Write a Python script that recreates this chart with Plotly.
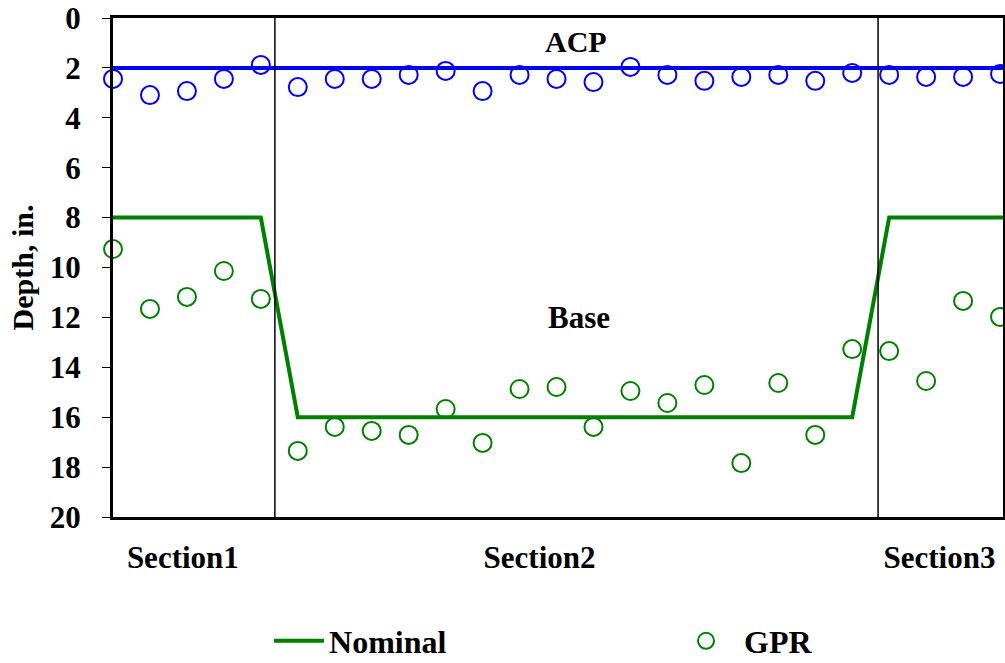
import plotly.graph_objects as go

idx = list(range(25))
acp_gpr = [2.44, 3.09, 2.93, 2.44, 1.88, 2.77, 2.44, 2.44, 2.28, 2.12, 2.93, 2.28, 2.44,
           2.57, 1.96, 2.28, 2.52, 2.36, 2.28, 2.52, 2.20, 2.28, 2.36, 2.36, 2.24]
base_gpr = [9.26, 11.66, 11.18, 10.14, 11.26, 17.35, 16.39, 16.55, 16.71, 15.67, 17.03, 14.87, 14.79,
            16.39, 14.95, 15.43, 14.71, 17.84, 14.63, 16.71, 13.27, 13.35, 14.55, 11.34, 11.98]
acp_nom_x = [0, 24.08]
acp_nom_y = [2, 2]
base_nom_x = [0, 4, 5, 20, 21, 24.08]
base_nom_y = [8, 8, 16, 16, 8, 8]
section_bounds = [4.38, 20.7]
section_pos = [1.89, 11.54, 22.36]
section_labels = ["Section1", "Section2", "Section3"]
y_ticks = [0, 2, 4, 6, 8, 10, 12, 14, 16, 18, 20]

BLUE = "#0000FF"
GREEN = "#008000"
FONT = "Liberation Serif, Times New Roman, serif"

fig = go.Figure()
fig.add_trace(go.Scatter(x=acp_nom_x, y=acp_nom_y, mode="lines",
                         line=dict(color=BLUE, width=4), showlegend=False))
fig.add_trace(go.Scatter(x=base_nom_x, y=base_nom_y, mode="lines", name="Nominal",
                         line=dict(color=GREEN, width=4), legend="legend"))
fig.add_trace(go.Scatter(x=idx, y=acp_gpr, mode="markers", showlegend=False, cliponaxis=False,
                         marker=dict(symbol="circle-open", size=18, color=BLUE, line=dict(width=2, color=BLUE))))
fig.add_trace(go.Scatter(x=idx, y=base_gpr, mode="markers", name="\u00a0GPR", cliponaxis=False,
                         legend="legend2",
                         marker=dict(symbol="circle-open", size=18, color=GREEN, line=dict(width=2, color=GREEN))))

for b in section_bounds:
    fig.add_shape(type="line", x0=b, x1=b, y0=0, y1=20, xref="x", yref="y",
                  line=dict(color="black", width=1.5))

fig.add_annotation(x=12.54, y=0.96, text="<b>ACP</b>", showarrow=False,
                   font=dict(family=FONT, size=30, color="black"))
fig.add_annotation(x=12.6, y=12.02, text="<b>Base</b>", showarrow=False,
                   font=dict(family=FONT, size=31, color="black"))

legend_font = dict(family=FONT, size=32, color="black", weight="bold")
fig.update_layout(
    width=1005, height=663,
    margin=dict(l=113, r=2, t=18, b=146, autoexpand=False),
    paper_bgcolor="white", plot_bgcolor="white",
    font=dict(family=FONT, size=30, color="black"),
    legend=dict(orientation="h", x=0.1753, xanchor="left", y=-0.2485, yanchor="middle",
                font=legend_font, itemwidth=50, bgcolor="rgba(0,0,0,0)"),
    legend2=dict(orientation="h", x=0.6326, xanchor="left", y=-0.2485, yanchor="middle",
                 font=legend_font, itemwidth=50, bgcolor="rgba(0,0,0,0)"),
)
fig.update_xaxes(range=[0, 24.08], showgrid=False, zeroline=False,
                 showline=True, mirror=True, linecolor="black", linewidth=3,
                 tickmode="array", tickvals=section_pos, ticktext=["<b>%s</b>" % s for s in section_labels],
                 ticks="", tickfont=dict(family=FONT, size=31), ticklabelstandoff=11)
fig.update_yaxes(range=[20, 0], showgrid=False, zeroline=False,
                 showline=True, mirror=True, linecolor="black", linewidth=3,
                 tickmode="array", tickvals=y_ticks, ticktext=["<b>%d</b>" % v for v in y_ticks],
                 ticks="outside", ticklen=8, tickwidth=1, tickcolor="black",
                 tickfont=dict(family=FONT, size=31), ticklabelstandoff=15,
                 title=dict(text="<b>Depth, in.</b>", font=dict(family=FONT, size=30), standoff=8))

fig.write_html("out.html")
